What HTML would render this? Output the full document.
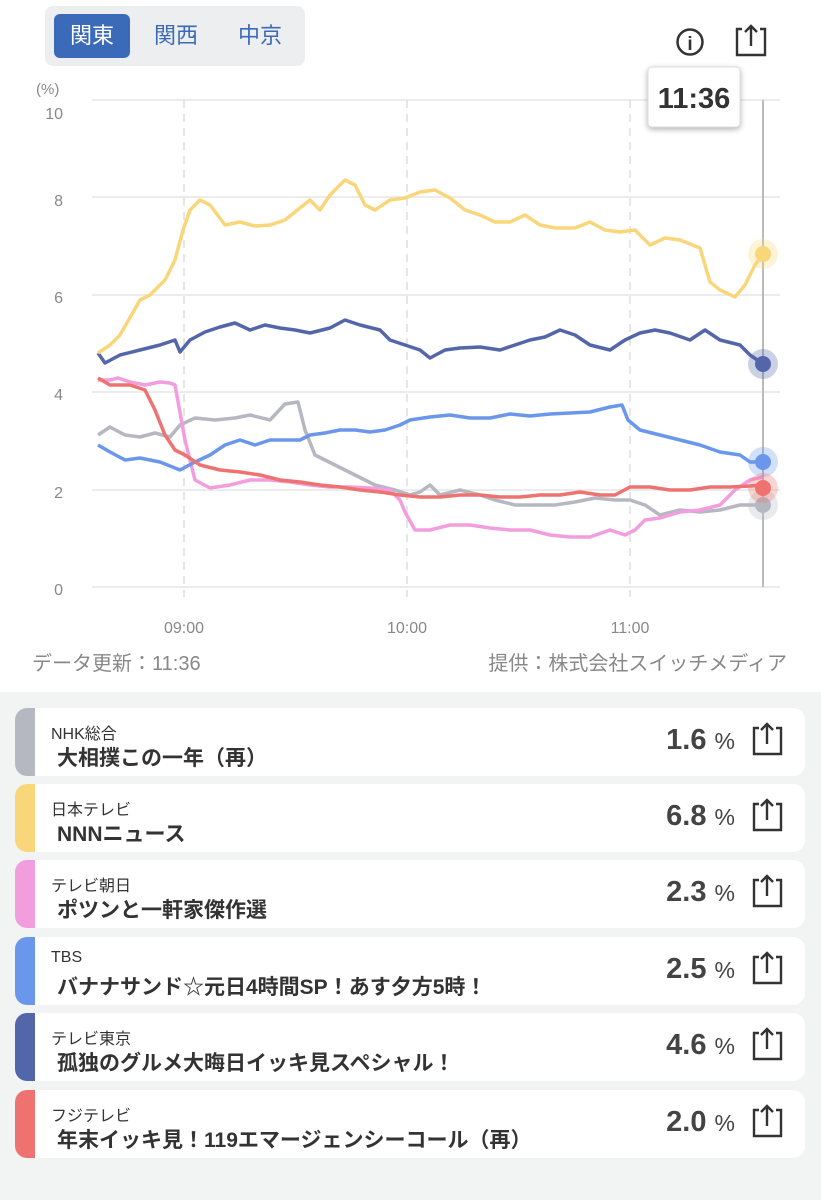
<!DOCTYPE html>
<html><head><meta charset="utf-8"><style>
body{margin:0;width:821px;height:1200px;background:#fff;font-family:"Liberation Sans","Noto Sans CJK JP",sans-serif;position:relative;overflow:hidden}
.tabs{position:absolute;left:45px;top:6px;width:260px;height:60px;background:#eceeef;border-radius:8px}
.tab{position:absolute;top:8px;height:44px;line-height:44px;font-size:22px;color:#3b6bb8;text-align:center;width:76px}
.act{background:#3b6bb8;color:#fff;border-radius:6px}
.list{position:absolute;left:0;top:692px;width:821px;height:508px;background:#f2f3f3}
.card{position:absolute;left:15px;width:790px;height:68px;background:#fff;border-radius:12px;overflow:hidden}
.bar{position:absolute;left:0;top:0;width:20px;height:68px}
.ch{position:absolute;left:36px;top:12px;font-size:16px;color:#333}
.ti{position:absolute;left:42px;top:34px;font-size:21px;font-weight:bold;color:#333;white-space:nowrap}
.pc{position:absolute;right:70px;top:16px;font-size:29px;font-weight:bold;color:#444}
.pc small{font-size:23px;font-weight:normal}
</style></head><body>
<div class="tabs"><div class="tab act" style="left:9px">関東</div><div class="tab" style="left:93px">関西</div><div class="tab" style="left:177px">中京</div></div>
<svg style="position:absolute;left:0;top:0" width="821" height="692">
<circle cx="690" cy="42" r="12.5" fill="none" stroke="#333" stroke-width="2.5"/><text x="690" y="50" font-size="19" text-anchor="middle" font-weight="bold" fill="#333">i</text>
<path d="M742 29h-5v26h28v-26h-5M751 46v-20M745 32l6-6l6 6" fill="none" stroke="#333" stroke-width="2.4"/>
<text x="36" y="94" font-size="15" fill="#888">(%)</text>
<g stroke="#e6e6e6" stroke-width="1.5"><line x1="92" x2="780" y1="100" y2="100"/><line x1="92" x2="780" y1="197" y2="197"/><line x1="92" x2="780" y1="295" y2="295"/><line x1="92" x2="780" y1="392" y2="392"/><line x1="92" x2="780" y1="490" y2="490"/><line x1="92" x2="780" y1="587" y2="587"/></g>
<g stroke="#ddd" stroke-width="1.5" stroke-dasharray="8,6"><line x1="184" x2="184" y1="100" y2="597"/><line x1="407" x2="407" y1="100" y2="597"/><line x1="630" x2="630" y1="100" y2="597"/></g>
<g font-size="16" fill="#888" text-anchor="end"><text x="63" y="119">10</text><text x="63" y="206">8</text><text x="63" y="303">6</text><text x="63" y="400">4</text><text x="63" y="498">2</text><text x="63" y="595">0</text></g>
<g font-size="16" fill="#888" text-anchor="middle"><text x="184" y="633">09:00</text><text x="407" y="633">10:00</text><text x="630" y="633">11:00</text></g>
<line x1="763" x2="763" y1="100" y2="587" stroke="#bbb" stroke-width="2"/>
<g fill="none" stroke-width="3.5" stroke-linejoin="round">
<polyline stroke="#b5b8c0" points="98,435 110,427 125,435 140,437 155,433 170,437 180,425 195,418 215,420 235,418 250,415 270,420 285,404 298,402 305,430 315,455 335,465 355,475 375,485 395,490 410,495 420,492 430,485 440,495 460,490 480,495 495,500 515,505 535,505 555,505 575,502 595,498 615,500 630,500 645,505 660,515 680,510 700,512 720,510 740,505 763,505"/>
<polyline stroke="#f29ede" points="98,380 110,380 118,378 130,382 145,385 160,382 170,383 175,385 185,440 195,480 210,488 230,485 250,480 270,480 290,482 310,485 330,487 350,487 370,488 390,490 400,500 405,512 415,530 430,530 450,525 470,525 490,528 510,530 530,530 550,535 570,537 590,537 610,530 625,535 635,530 645,520 660,518 680,512 700,510 720,505 735,490 750,480 763,477"/>
<polyline stroke="#6a97eb" points="98,445 110,452 125,460 140,458 160,462 180,470 195,462 210,455 225,445 240,440 255,445 270,440 285,440 300,440 310,435 325,433 340,430 355,430 370,432 385,430 400,425 410,420 430,417 450,415 470,418 490,418 510,414 530,416 550,414 570,413 590,412 610,407 622,405 628,420 640,430 660,435 680,440 700,445 720,452 740,455 750,462 763,462"/>
<polyline stroke="#ee7370" points="98,378 110,385 130,385 145,390 155,410 165,435 175,450 185,455 200,465 220,470 240,472 260,475 280,480 300,482 320,485 340,487 360,490 380,492 400,495 420,497 440,497 460,495 480,495 500,497 520,497 540,495 560,495 580,492 600,495 615,495 630,487 650,487 670,490 690,490 710,487 730,487 750,486 763,485"/>
<polyline stroke="#5366aa" points="98,353 105,363 120,355 140,350 160,345 175,340 180,352 190,340 205,332 220,327 235,323 250,330 265,325 280,328 295,330 310,333 330,328 345,320 360,325 380,330 390,340 405,345 420,350 430,358 445,350 460,348 480,347 500,350 515,345 530,340 545,337 560,330 575,335 590,345 610,350 625,340 640,333 655,330 670,333 690,340 705,330 720,340 740,345 750,355 763,364"/>
<polyline stroke="#fad67a" points="98,353 110,345 120,335 140,300 150,295 165,280 175,260 183,230 190,210 200,200 210,205 225,225 240,222 255,226 270,225 285,220 300,208 310,200 320,210 330,195 345,180 355,185 365,205 375,210 390,200 405,198 420,192 435,190 450,198 465,210 480,215 495,222 510,222 525,215 540,225 555,228 575,228 590,222 605,230 620,232 635,230 650,245 665,238 680,240 700,248 710,282 720,290 735,297 745,285 755,265 763,254"/>
</g>
<g><circle cx="763" cy="505" r="15" fill="#b5b8c0" opacity=".3"/><circle cx="763" cy="505" r="8" fill="#b5b8c0"/>
<circle cx="763" cy="462" r="15" fill="#6a97eb" opacity=".3"/><circle cx="763" cy="462" r="8" fill="#6a97eb"/>
<circle cx="763" cy="488" r="15" fill="#ee7370" opacity=".3"/><circle cx="763" cy="488" r="8" fill="#ee7370"/>
<circle cx="763" cy="364" r="15" fill="#5366aa" opacity=".3"/><circle cx="763" cy="364" r="8" fill="#5366aa"/>
<circle cx="763" cy="254" r="15" fill="#fad67a" opacity=".3"/><circle cx="763" cy="254" r="8" fill="#fad67a"/></g>
<rect x="648" y="67" width="92" height="60" rx="4" fill="#fff" stroke="#ddd" style="filter:drop-shadow(0 2px 3px rgba(0,0,0,.3))"/>
<text x="694" y="108" font-size="29" font-weight="bold" text-anchor="middle" fill="#333">11:36</text>
<text x="32" y="670" font-size="20" fill="#888">データ更新：11:36</text>
<text x="787" y="670" font-size="20" fill="#888" text-anchor="end">提供：株式会社スイッチメディア</text>
</svg>
<div class="list">
<div class="card" style="top:16px"><div class="bar" style="background:#b5b8c0"></div><div class="ch">NHK総合</div><div class="ti">大相撲この一年（再）</div><div class="pc">1.6 <small>%</small></div></div>
<div class="card" style="top:92px"><div class="bar" style="background:#fad67a"></div><div class="ch">日本テレビ</div><div class="ti">NNNニュース</div><div class="pc">6.8 <small>%</small></div></div>
<div class="card" style="top:168px"><div class="bar" style="background:#f29ede"></div><div class="ch">テレビ朝日</div><div class="ti">ポツンと一軒家傑作選</div><div class="pc">2.3 <small>%</small></div></div>
<div class="card" style="top:245px"><div class="bar" style="background:#6a97eb"></div><div class="ch">TBS</div><div class="ti">バナナサンド☆元日4時間SP！あす夕方5時！</div><div class="pc">2.5 <small>%</small></div></div>
<div class="card" style="top:321px"><div class="bar" style="background:#5366aa"></div><div class="ch">テレビ東京</div><div class="ti">孤独のグルメ大晦日イッキ見スペシャル！</div><div class="pc">4.6 <small>%</small></div></div>
<div class="card" style="top:398px"><div class="bar" style="background:#ee7370"></div><div class="ch">フジテレビ</div><div class="ti">年末イッキ見！119エマージェンシーコール（再）</div><div class="pc">2.0 <small>%</small></div></div>
</div>
<svg style="position:absolute;left:0;top:692px" width="821" height="508">
<g fill="none" stroke="#333" stroke-width="2.4">
<g id="s"><path d="M759 36h-5v26h27v-26h-5M767 52v-20M761 38l6-6l6 6"/></g>
<use href="#s" y="76"/><use href="#s" y="152"/><use href="#s" y="229"/><use href="#s" y="305"/><use href="#s" y="382"/>
</g></svg>
</body></html>
